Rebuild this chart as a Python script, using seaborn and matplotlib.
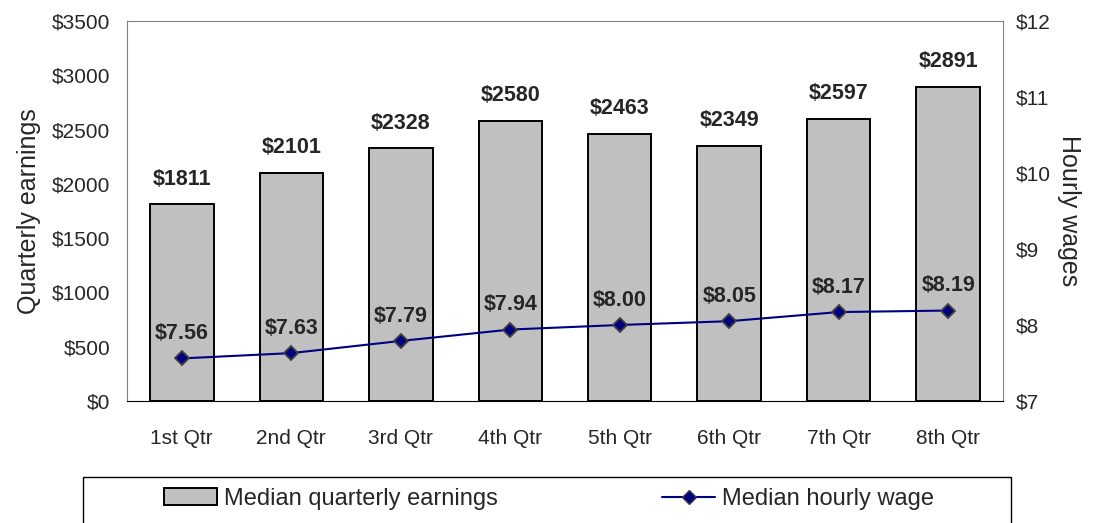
import pandas as pd
import seaborn as sns
import matplotlib.pyplot as plt
from matplotlib.patches import Patch, Rectangle
from matplotlib.lines import Line2D

quarters = ['1st Qtr', '2nd Qtr', '3rd Qtr', '4th Qtr', '5th Qtr', '6th Qtr', '7th Qtr', '8th Qtr']
earnings = [1811, 2101, 2328, 2580, 2463, 2349, 2597, 2891]
wages = [7.56, 7.63, 7.79, 7.94, 8.00, 8.05, 8.17, 8.19]

sns.set_style('white')
plt.rcParams['font.family'] = ['Liberation Sans', 'DejaVu Sans']

df = pd.DataFrame({'quarter': quarters, 'earnings': earnings, 'wage': wages})

fig = plt.figure(figsize=(10.99, 5.23), dpi=100)
ax = fig.add_axes([0.1156, 0.2333, 0.797, 0.7266])

sns.barplot(data=df, x='quarter', y='earnings', color='#c0c0c0', width=0.58,
            edgecolor='black', linewidth=1.4, saturation=1, ax=ax)
ax.set_ylim(0, 3500)
ax.set_yticks(range(0, 3501, 500))
ax.set_yticklabels([f'${v}' for v in range(0, 3501, 500)], fontsize=15)
ax.set_xlim(-0.5, len(quarters) - 0.5)
ax.set_xticks(range(len(quarters)))
ax.set_xticklabels(quarters, fontsize=15)
ax.tick_params(axis='x', length=0, pad=20)
# category boundary ticks
ax.set_xticks([i - 0.5 for i in range(len(quarters) + 1)], minor=True)
ax.tick_params(axis='x', which='minor', length=7, width=1, color='black', direction='out')
ax.tick_params(axis='y', length=0, pad=12)
ax.set_xlabel('')
ax.set_ylabel('Quarterly earnings', fontsize=18, labelpad=8)
for s in ['left', 'top', 'right']:
    ax.spines[s].set_color('#808080')
ax.spines['bottom'].set_color('black')

for i, v in enumerate(earnings):
    ax.text(i, v + 135, f'${v}', ha='center', va='bottom', fontsize=15.5, fontweight='bold')

ax2 = ax.twinx()
sns.pointplot(data=df, x='quarter', y='wage', color='#000080', markers='D',
              linestyles='-', markersize=7, linewidth=1.5, ax=ax2)
for ln in ax2.lines:
    ln.set_markeredgecolor('#404040')
    ln.set_markeredgewidth(1.3)
ax2.set_ylim(7, 12)
ax2.set_yticks(range(7, 13))
ax2.set_yticklabels([f'${v}' for v in range(7, 13)], fontsize=15)
ax2.tick_params(axis='y', length=0, pad=9)
ax2.set_xlim(-0.5, len(quarters) - 0.5)
ax2.set_xlabel('')
ax2.set_ylabel('Hourly wages', fontsize=18, rotation=-90, labelpad=22)
for s in ['left', 'top', 'right', 'bottom']:
    ax2.spines[s].set_visible(False)

for i, v in enumerate(wages):
    ax2.text(i, v + 0.19, f'${v:.2f}', ha='center', va='bottom', fontsize=15.5, fontweight='bold')

# legend box across the bottom
fig.patches.append(Rectangle((83 / 1099, -0.01), 928 / 1099, 46 / 523 + 0.01,
                             transform=fig.transFigure, facecolor='white',
                             edgecolor='black', linewidth=1.0))
handles = [Patch(facecolor='#c0c0c0', edgecolor='black', linewidth=1.4),
           Line2D([0], [0], color='#000080', marker='D', markersize=7,
                  markeredgecolor='#404040', linewidth=1.5)]
fig.legend(handles, ['Median quarterly earnings', 'Median hourly wage'],
           loc='center', bbox_to_anchor=(549 / 1099, 1 - 499 / 523),
           ncol=2, fontsize=17, frameon=False,
           handlelength=2.25, handletextpad=0.3, columnspacing=6.95)

fig.savefig('out.png', dpi=100)
